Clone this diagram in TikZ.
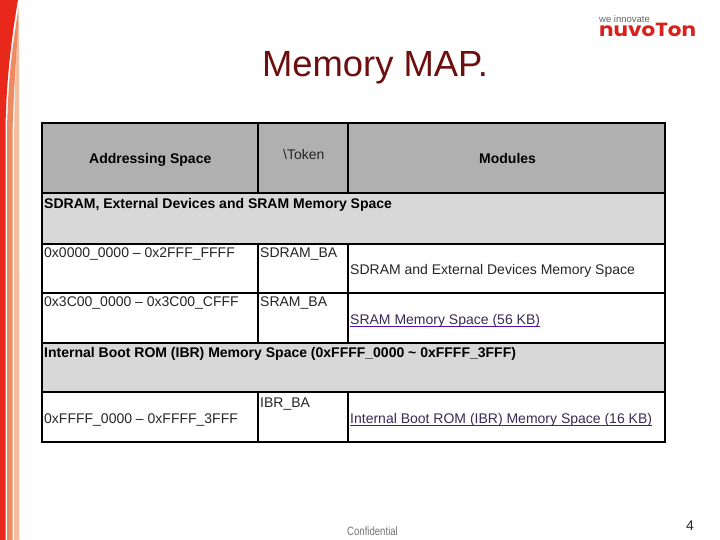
\documentclass[tikz,border=0pt]{standalone}
\usepackage{fontspec}
\setmainfont{Liberation Sans}
\newfontfamily\logofont{Poppins}
\definecolor{hdrgray}{HTML}{B0B0B0}
\definecolor{subgray}{HTML}{D8D8D8}
\definecolor{titlec}{HTML}{6E0F0F}
\definecolor{linkc}{HTML}{3A2A55}
\definecolor{linku}{HTML}{5A14A0}
\definecolor{stripeA}{HTML}{E8281A}
\definecolor{stripeB}{HTML}{EC8A62}
\definecolor{stripeC}{HTML}{F4BDA0}
\definecolor{logored}{HTML}{D8201C}
\tikzset{
  x=1pt,y=-1pt,
  cell/.style={anchor=base west,inner sep=0pt,font=\fontsize{14}{16}\selectfont,text=black!85},
  cellb/.style={cell,font=\fontsize{14}{16}\selectfont\bfseries,text=black},
  linktext/.style={cell,text=linkc},
  linkline/.style={linku,line width=1pt},
  inner/.style={black,line width=1.7pt},
  outer/.style={black,line width=2.6pt,line join=miter},
}
\begin{document}
\begin{tikzpicture}
\useasboundingbox (0,0) rectangle (720,540);
\fill[white] (0,0) rectangle (720,540);
% left stripes
\fill[stripeC] (14,540) -- (14,150) .. controls (14.5,90) and (16,50) .. (19,8) -- (19.5,540) -- cycle;
\fill[stripeB] (7,540) -- (7,130) .. controls (8,85) and (11,55) .. (18.5,8) .. controls (18,40) and (14,80) .. (12.5,130) -- (12.5,540) -- cycle;
\fill[stripeA] (0,0) -- (18,0) .. controls (12,35) and (6,80) .. (5.5,130) -- (5.5,540) -- (0,540) -- cycle;
% table fills
\fill[hdrgray] (42,123) rectangle (665,193);
\fill[subgray] (42,193) rectangle (665,244);
\fill[subgray] (42,343) rectangle (665,392);
% grid
\draw[inner] (42,193) -- (665,193);
\draw[inner] (42,244) -- (665,244);
\draw[inner] (42,293) -- (665,293);
\draw[inner] (42,343) -- (665,343);
\draw[inner] (42,392) -- (665,392);
\draw[inner] (258,123) -- (258,193);
\draw[inner] (348,123) -- (348,193);
\draw[inner] (258,244) -- (258,343);
\draw[inner] (348,244) -- (348,343);
\draw[inner] (258,392) -- (258,442);
\draw[inner] (348,392) -- (348,442);
\draw[outer] (42,123) rectangle (665,442);
% title
\node[anchor=base,inner sep=0pt,font=\fontsize{36.4}{40}\selectfont,text=titlec] (title) at (375,77) {Memory MAP.};
% header
\node[cellb] (h1) at (89,164) {Addressing Space};
\node[cell] (h2) at (283,160) {\textbackslash Token};
\node[cellb] (h3) at (479,164) {Modules};
% sections
\node[cellb] (s1) at (44,208) {SDRAM, External Devices and SRAM Memory Space};
\node[cellb] (s2) at (44,357) {Internal Boot ROM (IBR) Memory Space (0xFFFF\_0000 \textasciitilde\ 0xFFFF\_3FFF)};
% rows
\node[cell] (a1) at (44,257) {0x0000\_0000 – 0x2FFF\_FFFF};
\node[cell] (b1) at (260,257) {SDRAM\_BA};
\node[cell] (c1) at (350,274) {SDRAM and External Devices Memory Space};
\node[cell] (a2) at (44,306) {0x3C00\_0000 – 0x3C00\_CFFF};
\node[cell] (b2) at (260,306) {SRAM\_BA};
\node[linktext] (c2) at (350,324) {SRAM Memory Space (56 KB)};
\node[cell] (a3) at (44,423) {0xFFFF\_0000 – 0xFFFF\_3FFF};
\node[cell] (b3) at (260,407) {IBR\_BA};
\node[linktext] (c3) at (350,423) {Internal Boot ROM (IBR) Memory Space (16 KB)};
\draw[linkline] ([yshift=-2pt]c2.base west) -- ([yshift=-2pt]c2.base east);
\draw[linkline] ([yshift=-2pt]c3.base west) -- ([yshift=-2pt]c3.base east);
% logo
\node[anchor=base west,inner sep=0pt,font=\fontsize{9.5}{10}\selectfont,text=black!60] (lg1) at (599,23) {we innovate};
\node[anchor=base west,inner sep=0pt,xscale=1.13,font=\logofont\bfseries\fontsize{19}{20}\selectfont,text=logored] (lg2) at (599,37) {nuvoTon};
% footer
\node[anchor=base west,inner sep=0pt,xscale=.8,font=\fontsize{12}{14}\selectfont,text=black!55] (conf) at (347,535) {Confidential};
\node[anchor=base,inner sep=0pt,font=\fontsize{14}{16}\selectfont,text=black!85] (pg) at (690,530) {4};
\end{tikzpicture}
\end{document}
